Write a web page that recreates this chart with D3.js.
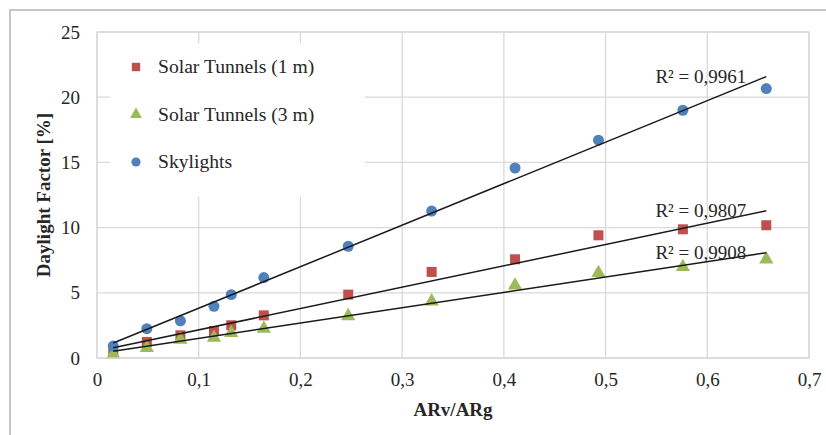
<!DOCTYPE html>
<html>
<head>
<meta charset="utf-8">
<script src="https://cdn.jsdelivr.net/npm/d3@7"></script>
<style>
  body { margin: 0; background: #fff; }
  svg text { font-family: "Liberation Serif", "Times New Roman", serif; fill: #262626; }
  .tick text { font-size: 19px; }
  .axistitle { font-size: 19px; font-weight: bold; }
  .leglabel { font-size: 19.6px; }
  .r2 { font-size: 19px; }
</style>
</head>
<body>
<div id="chart"></div>
<script>

// Data.
const ratio = [0.016, 0.049, 0.082, 0.115, 0.132, 0.164, 0.247, 0.329, 0.411, 0.493, 0.576, 0.658];
const tunnels1m = [0.46, 1.23, 1.74, 2.07, 2.51, 3.27, 4.86, 6.6, 7.57, 9.41, 9.87, 10.18];
const tunnels3m = [0.28, 0.77, 1.41, 1.56, 1.92, 2.25, 3.22, 4.35, 5.57, 6.52, 6.98, 7.57];
const skylights = [0.92, 2.25, 2.85, 3.96, 4.86, 6.17, 8.57, 11.27, 14.57, 16.7, 19.0, 20.66];
const seriesNames = ["Solar Tunnels (1 m)", "Solar Tunnels (3 m)", "Skylights"];
const seriesColors = ["#c0504d", "#9bbb59", "#4f81bd"];
const r2Labels = ["R² = 0,9807", "R² = 0,9908", "R² = 0,9961"];
const xTicks = [0, 0.1, 0.2, 0.3, 0.4, 0.5, 0.6, 0.7];
const yTicks = [0, 5, 10, 15, 20, 25];

const totalW = 826, totalH = 435;
let margin = { top: 32, right: 17, bottom: 77, left: 97 },
    width = totalW - margin.left - margin.right,
    height = totalH - margin.top - margin.bottom;

let svg = d3.select("#chart").append("svg")
    .attr("width", totalW)
    .attr("height", totalH);

// outer frame (top and left edges only are visible)
svg.append("path")
    .attr("d", "M10," + totalH + "V10H" + totalW)
    .attr("fill", "none")
    .attr("stroke", "#c6c6c6")
    .attr("stroke-width", 2);

let g = svg.append("g")
    .attr("transform", "translate(" + margin.left + "," + margin.top + ")");

let x = d3.scaleLinear().domain([0, 0.7]).range([0, width]);
let y = d3.scaleLinear().domain([0, 25]).range([height, 0]);

const fmt = d => d === 0 ? "0" : d3.format(".1f")(d).replace(".", ",");

// grid
g.append("g")
    .selectAll("line")
    .data(xTicks)
    .join("line")
    .attr("x1", d => x(d)).attr("x2", d => x(d))
    .attr("y1", 0).attr("y2", height)
    .attr("stroke", "#d9d9d9").attr("stroke-width", 1.3);
g.append("g")
    .selectAll("line")
    .data(yTicks)
    .join("line")
    .attr("x1", 0).attr("x2", width)
    .attr("y1", d => y(d)).attr("y2", d => y(d))
    .attr("stroke", "#d9d9d9").attr("stroke-width", 1.3);

// axes (labels only)
let xAxis = d3.axisBottom(x).tickValues(xTicks).tickFormat(fmt).tickSize(0).tickPadding(15);
let yAxis = d3.axisLeft(y).tickValues(yTicks).tickSize(0).tickPadding(17);
g.append("g").attr("transform", "translate(0," + height + ")").call(xAxis)
    .attr("font-family", null).attr("font-size", null)
    .call(a => a.select(".domain").remove());
g.append("g").call(yAxis)
    .attr("font-family", null).attr("font-size", null)
    .call(a => a.select(".domain").remove());

g.append("text")
    .attr("class", "axistitle")
    .attr("x", width / 2).attr("y", height + 58)
    .attr("text-anchor", "middle")
    .text("ARv/ARg");
g.append("text")
    .attr("class", "axistitle")
    .attr("transform", "rotate(-90)")
    .attr("x", -height / 2).attr("y", -47)
    .attr("text-anchor", "middle")
    .text("Daylight Factor [%]");

// series
const series = [tunnels1m, tunnels3m, skylights].map((vals, k) => ({
    name: seriesNames[k],
    color: seriesColors[k],
    r2: r2Labels[k],
    pts: vals.map((v, i) => ({ x: ratio[i], y: v }))
}));

function symbolFor(k) {
    return [d3.symbolSquare, d3.symbolTriangle, d3.symbolCircle][k];
}
const symSize = [100, 88, 95];

// least squares trend line
function fit(pts) {
    const mx = d3.mean(pts, p => p.x), my = d3.mean(pts, p => p.y);
    const b = d3.sum(pts, p => (p.x - mx) * (p.y - my)) / d3.sum(pts, p => (p.x - mx) ** 2);
    return { a: my - b * mx, b: b };
}

series.forEach((s, k) => {
    g.append("g")
        .selectAll("path")
        .data(s.pts)
        .join("path")
        .attr("transform", d => "translate(" + x(d.x) + "," + y(d.y) + ")")
        .attr("d", d3.symbol(symbolFor(k), symSize[k]))
        .attr("fill", s.color);
});

series.forEach((s, k) => {
    const f = fit(s.pts);
    const x0 = d3.min(s.pts, p => p.x), x1 = d3.max(s.pts, p => p.x);
    g.append("line")
        .attr("x1", x(x0)).attr("y1", y(f.a + f.b * x0))
        .attr("x2", x(x1)).attr("y2", y(f.a + f.b * x1))
        .attr("stroke", "#1a1a1a").attr("stroke-width", 1.5);
    g.append("text")
        .attr("class", "r2")
        .attr("x", x(0.549))
        .attr("y", y(f.a + f.b * x1) + 6)
        .text(s.r2);
});

// legend
let legend = g.append("g").attr("transform", "translate(13,11)");
legend.append("rect")
    .attr("width", 255).attr("height", 154)
    .attr("fill", "#fff");
series.forEach((s, k) => {
    const row = legend.append("g").attr("transform", "translate(26," + (24 + k * 47.5) + ")");
    row.append("path")
        .attr("d", d3.symbol(symbolFor(k), symSize[k] * 0.7))
        .attr("fill", s.color);
    row.append("text")
        .attr("class", "leglabel")
        .attr("x", 22).attr("dy", "0.33em")
        .text(s.name);
});

// plot border
g.append("rect")
    .attr("width", width).attr("height", height)
    .attr("fill", "none").attr("stroke", "#d9d9d9").attr("stroke-width", 1.3);

</script>
</body>
</html>
